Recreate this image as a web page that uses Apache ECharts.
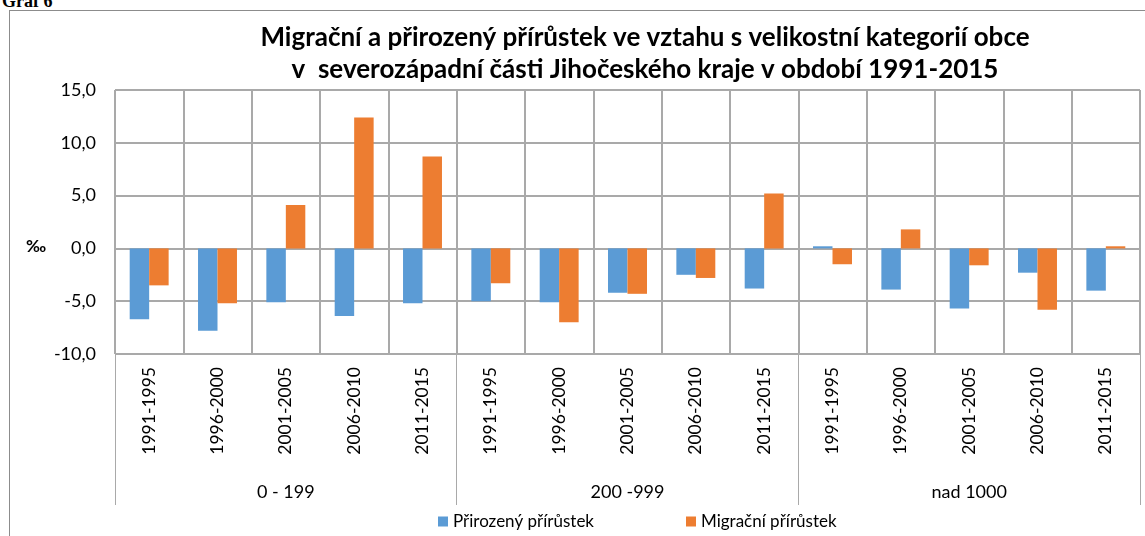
<!DOCTYPE html>
<html>
<head>
<meta charset="utf-8">
<script src="https://cdn.jsdelivr.net/npm/echarts@6/dist/echarts.min.js"></script>
<style>
  html, body { margin: 0; padding: 0; background: #fff; overflow: hidden; }
  #wrap { position: relative; width: 1145px; height: 536px; }
  /* rámeček grafu */
  .frame { position: absolute; left: 9px; top: 10px; width: 1150px; height: 540px; border: 1px solid #8c8c8c; }
  .caption { position: absolute; left: 2px; top: -9px; font: bold 18px "Liberation Serif", serif; color: #000; }
  #chart { position: absolute; left: 0; top: 0; width: 1145px; height: 536px; }
</style>
</head>
<body>
<div id="wrap">
  <div class="frame"></div>
  <div class="caption">Graf 6</div>
  <div id="chart"></div>
</div>
<script>
// období a velikostní kategorie obcí
const periods = ["1991-1995", "1996-2000", "2001-2005", "2006-2010", "2011-2015"];
const groups = ["0 - 199", "200 -999", "nad 1000"];

// hodnoty v promile
const prirozeny = [-6.7, -7.8, -5.1, -6.4, -5.2, -5.0, -5.1, -4.2, -2.5, -3.8, 0.2, -3.9, -5.7, -2.3, -4.0];
const migracni = [-3.5, -5.2, 4.1, 12.4, 8.7, -3.3, -7.0, -4.3, -2.8, 5.2, -1.5, 1.8, -1.6, -5.8, 0.2];

const categories = [];
groups.forEach(() => periods.forEach(p => categories.push(p)));

const font = "Lato, 'Open Sans', sans-serif";
const gridColor = "#a9a9a9";

const option = {
  animation: false,
  textStyle: { fontFamily: font, color: "#000" },
  title: {
    text: "Migrační a přirozený přírůstek ve vztahu s velikostní kategorií obce\nv  severozápadní části Jihočeského kraje v období 1991-2015",
    left: 640,
    textAlign: "center",
    top: 17,
    textStyle: { fontFamily: font, fontSize: 26, fontWeight: "bold", lineHeight: 32, color: "#000" }
  },
  legend: {
    bottom: 1,
    left: 433,
    itemWidth: 10,
    itemHeight: 10,
    itemGap: 92,
    icon: "rect",
    textStyle: { fontFamily: font, fontSize: 17, color: "#000" },
    data: ["Přirozený přírůstek", "Migrační přírůstek"]
  },
  graphic: [{
    type: "text",
    left: 26,
    top: 238,
    style: { text: "‰", font: "bold 17px " + font, fill: "#000" }
  }],
  grid: { left: 115, right: 5, top: 90, bottom: 182 },
  xAxis: [
    {
      type: "category",
      data: categories,
      axisLine: { show: false },
      axisTick: { show: false },
      axisLabel: { rotate: 90, interval: 0, margin: 13, fontSize: 17.5, fontFamily: font, color: "#000" },
      splitLine: { show: true, interval: 0, lineStyle: { color: gridColor, width: 2 } }
    },
    {
      type: "category",
      position: "bottom",
      data: groups,
      axisLine: { show: false },
      axisTick: { show: true, length: 151, interval: 0, lineStyle: { color: gridColor, width: 1 } },
      axisLabel: { margin: 129, fontSize: 18, fontFamily: font, color: "#000" }
    }
  ],
  yAxis: {
    type: "value",
    min: -10,
    max: 15,
    interval: 5,
    axisLine: { show: false },
    axisTick: { show: false },
    axisLabel: {
      margin: 19,
      fontSize: 18,
      fontFamily: font,
      color: "#000",
      formatter: v => v.toFixed(1).replace(".", ",")
    },
    splitLine: { lineStyle: { color: gridColor, width: 2 } }
  },
  series: [
    {
      name: "Přirozený přírůstek",
      type: "bar",
      data: prirozeny,
      barGap: "0%",
      barCategoryGap: "43%",
      itemStyle: { color: "#5b9bd5" }
    },
    {
      name: "Migrační přírůstek",
      type: "bar",
      data: migracni,
      itemStyle: { color: "#ed7d31" }
    }
  ]
};

echarts.init(document.getElementById("chart")).setOption(option);
</script>
</body>
</html>
